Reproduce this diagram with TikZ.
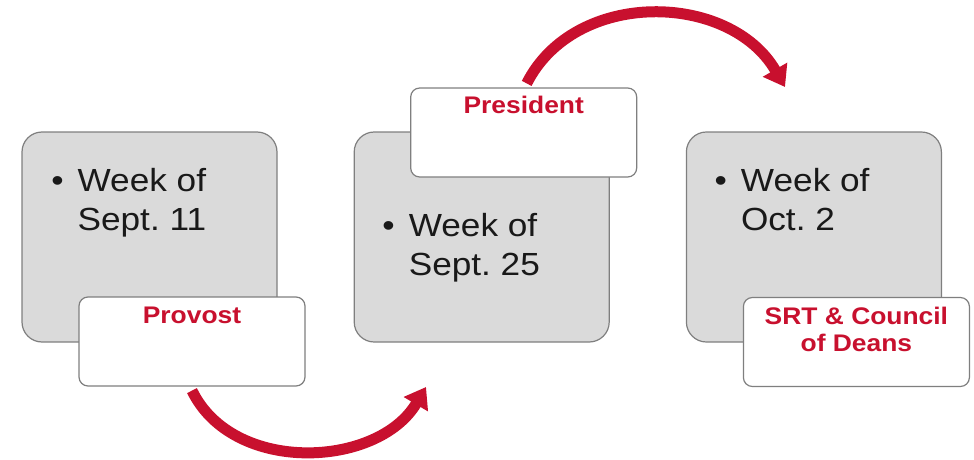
\documentclass[tikz,border=0pt]{standalone}
\usepackage{fontspec}
\setmainfont{Liberation Sans}[FakeStretch=1.1]
\frenchspacing
\usetikzlibrary{arrows.meta,positioning}
\definecolor{deanred}{HTML}{C8102E}
\definecolor{boxgray}{HTML}{DADADA}
\definecolor{edgegray}{HTML}{7F7F7F}
\pgfdeclarelayer{back}
\pgfsetlayers{back,main}

\begin{document}
\begin{tikzpicture}[x=1pt,y=-1pt,node distance=76pt]

    \tikzstyle{week}=[draw=edgegray,line width=1.2pt,fill=boxgray,rounded corners=20pt,minimum width=255pt,minimum height=210pt,inner sep=0pt]
    \tikzstyle{when}=[anchor=north west,align=left,inner sep=0pt,text=black!90,font=\fontsize{32}{39}\selectfont]
    \tikzstyle{tag}=[draw=edgegray,line width=1.2pt,fill=white,rounded corners=9pt,minimum width=226pt,minimum height=89pt,inner sep=0pt]
    \tikzstyle{who}=[anchor=north,align=center,inner sep=0pt,text=deanred,font=\fontsize{24}{27}\selectfont\bfseries]
    \tikzstyle{hop}=[draw=deanred,line width=11pt,-{Triangle[length=20pt,width=27pt]}]

    \useasboundingbox (0,0) rectangle (974,460);

    \node[week]               (wk1) at (149.5,237) {};
    \node[week,right=of wk1]  (wk2)                {};
    \node[week,right=of wk2]  (wk3)                {};

    \node[when] at ([shift={(56,37)}]wk1.north west) {\llap{•\hspace{14pt}}Week of\\Sept. 11};
    \node[when] at ([shift={(55,82)}]wk2.north west) {\llap{•\hspace{14pt}}Week of\\Sept. 25};
    \node[when] at ([shift={(55,37)}]wk3.north west) {\llap{•\hspace{14pt}}Week of\\Oct. 2};

    \node[tag] (provost)   at ([shift={(42.5,104.5)}]wk1) {};
    \node[tag] (president) at ([shift={(42,-104.5)}]wk2)  {};
    \node[tag] (srt)       at ([shift={(42.5,105)}]wk3)   {};

    \node[who] at ([yshift=-10pt]provost.north)   {Provost};
    \node[who] at ([yshift=-9pt]president.north)  {President};
    \node[who] at ([yshift=-10pt]srt.north)       {SRT \& Council\\of Deans};

    % arrows go under the boxes
    \coordinate (land1) at (426,387);
    \coordinate (land2) at (785,87);
    \begin{pgfonlayer}{back}
    \draw[hop] ([yshift=-4pt]provost.south) .. controls (233,475) and (378,468) .. (land1);
    \draw[hop] ([xshift=3pt,yshift=4pt]president.north) .. controls (575,-12) and (730,-8) .. (land2);
    \end{pgfonlayer}
\end{tikzpicture}
\end{document}
